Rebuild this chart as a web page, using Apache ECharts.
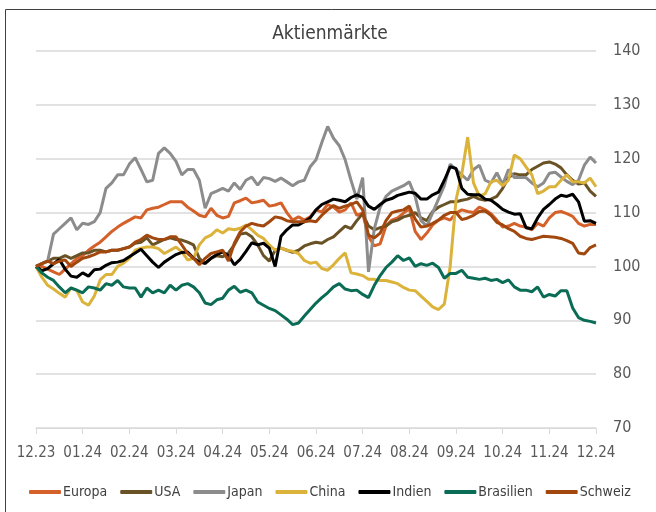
<!DOCTYPE html>
<html>
<head>
<meta charset="utf-8">
<script src="https://cdn.jsdelivr.net/npm/echarts@6/dist/echarts.min.js"></script>
<style>
  html, body { margin: 0; padding: 0; background: #fff; }
  #chart { width: 656px; height: 512px; }
</style>
</head>
<body>
<div id="chart"></div>
<script>
// month tick labels (one per 8 data steps)
const monthLabels = ['12.23', '01.24', '02.24', '03.24', '04.24', '05.24', '06.24', '07.24', '08.24', '09.24', '10.24', '11.24', '12.24']
const stepsPerMonth = 8

const europa = [100, 100, 99.5, 99, 98.5, 99.5, 100.5, 101.5, 102, 103, 103.8, 104.5, 105.5, 106.5, 107.3, 108, 108.6, 109.2, 109, 110.5, 110.8, 111, 111.5, 112, 112, 112, 111, 110.3, 109.5, 109.2, 110.8, 109.5, 109, 109.3, 111.8, 112.2, 112.7, 111.8, 112, 112.3, 111.2, 111.4, 111.8, 110, 108.6, 109.2, 108.6, 109.2, 110.5, 110.1, 111.5, 111, 110.1, 110.5, 111.8, 109.5, 109.9, 105.5, 103.8, 104.2, 107.5, 108.6, 109, 109.9, 110.7, 106.5, 105, 106.2, 107.7, 108.6, 109, 108.6, 109.9, 110.5, 110.2, 110, 111, 110.5, 109.8, 108.6, 107.3, 107.5, 108, 107.5, 107.3, 106.8, 108, 107.5, 109, 110, 110.2, 109.8, 109.3, 108, 107.5, 107.8, 107.8]
const usa = [100, 100.5, 101, 101.5, 101.5, 102, 101.5, 102, 102.5, 102.5, 103, 103, 102.7, 103, 103, 103.3, 103.6, 104.3, 104.5, 105.3, 104, 104.5, 105, 105.3, 105, 104.9, 104.5, 104, 101.5, 100.5, 101.5, 102, 101.8, 102.5, 104, 106, 106.2, 105.5, 104, 102, 101, 103, 103.4, 103, 102.6, 103, 103.8, 104.2, 104.5, 104.3, 105, 105.5, 106.5, 107.5, 107, 108.5, 109.8, 107.5, 106.8, 107.2, 107.5, 108.3, 108.6, 109.2, 109.5, 110, 109, 108.5, 110.2, 111, 111.5, 112, 112, 112.3, 112.5, 113, 112.5, 112.3, 112.5, 113, 114.5, 116.5, 117.2, 117, 117, 118, 118.6, 119.2, 119.4, 119, 118.3, 117, 116, 115.3, 115.5, 114, 113]
const japan = [100, 100.5, 101, 106, 107, 108, 109, 106.8, 108, 107.8, 108.3, 110, 114.5, 115.5, 117, 117, 119, 120.2, 118, 115.7, 116, 121, 122, 121, 119.5, 117, 118, 118, 116, 110.8, 113.5, 114, 114.5, 114, 115.5, 114.3, 116, 116.6, 115.1, 116.5, 116.3, 115.8, 116.4, 115.7, 115, 115.7, 116, 118.5, 119.8, 123, 126, 123.8, 122.4, 119.8, 116, 112.5, 116.5, 99, 107, 111, 113, 114, 114.5, 115, 115.7, 113, 108.5, 107.5, 110, 112.5, 115, 119, 118, 117, 116, 118, 118.8, 116, 115.5, 117.4, 115.2, 118, 116.5, 116.5, 116.5, 115.5, 114.8, 115.5, 117.3, 117.5, 116.6, 115.8, 115.2, 116, 118.8, 120.3, 119.2]
const china = [100, 98, 96.5, 95.8, 95, 94.3, 96, 95.5, 93.4, 92.8, 94.5, 97.5, 98.5, 98.5, 100, 100.6, 101.5, 103, 103.4, 103.6, 103.6, 103.3, 102.4, 103, 103.6, 102.7, 101.2, 101.5, 104, 105.3, 105.8, 106.8, 106.2, 107, 106.8, 107.1, 107.7, 106.8, 105.8, 105.2, 104, 103, 103.4, 103, 102.8, 102.4, 101.1, 100.6, 100.8, 99.6, 99.3, 100.3, 101.5, 102.5, 98.8, 98.6, 98.3, 97.6, 97.6, 97.4, 97.4, 97.1, 96.8, 96.1, 95.6, 95.5, 94.5, 93.5, 92.5, 92, 93, 100, 112.3, 117.2, 124, 115.5, 113, 113.5, 115.7, 116, 115, 116, 120.7, 120, 118.5, 117, 113.5, 114, 114.8, 114.8, 116, 117, 115.7, 115.7, 115.5, 116.4, 114.8]
const indien = [100, 99.2, 99.6, 100.5, 101.3, 99.5, 98.2, 98, 98.8, 98.2, 99.4, 99.5, 100.2, 100.7, 100.8, 101.1, 101.8, 102.5, 103.2, 102, 100.8, 99.8, 100.8, 101.5, 102.2, 102.6, 102.7, 101.5, 100.8, 100.6, 101.5, 102.2, 102.7, 102, 100.3, 101.3, 102.8, 104.4, 104, 104.3, 103.4, 100, 105.6, 106.8, 107.7, 107.7, 108.3, 109, 110.5, 111.5, 112, 112.5, 112.3, 112, 112.8, 113.3, 112.8, 111.2, 110.6, 111.5, 112.3, 112.6, 113.2, 113.5, 113.8, 113.6, 112.5, 112.5, 113.3, 113.8, 116, 118.5, 118.2, 114.5, 113.4, 113.3, 113.3, 112.5, 112.3, 111.5, 110.6, 110.1, 109.7, 109.8, 107.2, 107, 109, 110.6, 111.5, 112.5, 113.2, 113, 113.4, 112, 108.4, 108.5, 108]
const brasilien = [100, 98.8, 98, 97.4, 96.2, 95.1, 96, 95.6, 95.1, 96.2, 96, 95.6, 96.8, 96.5, 97.4, 96.2, 96, 96, 94.3, 96, 95.1, 95.6, 95.1, 96.5, 95.6, 96.5, 96.8, 96.2, 95.1, 93.2, 92.9, 93.8, 94.1, 95.6, 96.3, 95.2, 95.6, 95.1, 93.4, 92.8, 92.2, 91.8, 91, 90.2, 89.2, 89.5, 90.8, 92, 93.2, 94.2, 95.1, 96.2, 96.8, 95.8, 95.5, 95.6, 94.8, 94.2, 96.5, 98.3, 99.8, 100.8, 102, 101.1, 101.6, 100, 100.5, 100.2, 100.6, 99.8, 97.8, 98.7, 98.7, 99.3, 98, 97.8, 97.6, 97.8, 97.4, 97.6, 97, 97.5, 96.2, 95.6, 95.6, 95.3, 96.2, 94.3, 94.8, 94.5, 95.5, 95.5, 92.3, 90.5, 90, 89.8, 89.5]
const schweiz = [100, 100.5, 101, 100.5, 101, 101.2, 100, 100.8, 101.5, 101.8, 102.2, 102.7, 102.7, 103, 103, 103.3, 103.6, 104.5, 105, 105.8, 105.3, 105, 105, 105.5, 105.5, 104, 102.4, 101.5, 100.3, 101.5, 102.4, 102.7, 103, 101, 104.3, 106.4, 107.5, 108, 107.7, 107.5, 108.3, 109.2, 109, 108.5, 108.3, 108.3, 108.3, 108.5, 108.3, 109.5, 110.5, 111.3, 110.8, 111.2, 111.5, 112, 110.5, 105.8, 105.3, 106.2, 108.5, 110, 110.3, 110.5, 111.2, 108.8, 107.3, 107.5, 108, 108.6, 109.5, 110, 110, 108.7, 109, 109.5, 110.2, 110.3, 109.5, 108.2, 107.7, 107, 106.5, 105.6, 105.2, 105, 105.3, 105.6, 105.5, 105.4, 105.2, 104.8, 104.3, 102.5, 102.3, 103.5, 104]

const seriesNames = ['Europa', 'USA', 'Japan', 'China', 'Indien', 'Brasilien', 'Schweiz']
const seriesValues = [europa, usa, japan, china, indien, brasilien, schweiz]
const seriesColors = ['#D5612A', '#6A5227', '#8C8C8C', '#DCB33A', '#000000', '#0B6C56', '#A2480F']

const font = '"Liberation Sans Narrow", "DejaVu Sans Condensed", "Open Sans", sans-serif'

const chart = echarts.init(document.getElementById('chart'))
chart.setOption({
  animation: false,
  title: {
    text: 'Aktienmärkte',
    left: 325,
    top: 20,
    textAlign: 'center',
    textStyle: { color: '#404040', fontSize: 19, fontWeight: 'normal', fontFamily: font }
  },
  graphic: [
    {
      type: 'rect',
      shape: { x: 5.5, y: 9.5, width: 680, height: 520 },
      style: { fill: 'none', stroke: '#404040', lineWidth: 1 }
    }
  ],
  legend: {
    bottom: 8,
    left: 24,
    itemWidth: 32,
    itemHeight: 4,
    itemGap: 13,
    icon: 'roundRect',
    textStyle: { color: '#404040', fontSize: 14, fontFamily: font, padding: [0, 0, 0, -3] },
    data: seriesNames
  },
  grid: { left: 36, right: 60, top: 51, bottom: 84 },
  xAxis: {
    type: 'value',
    min: 0,
    max: monthLabels.length * stepsPerMonth - stepsPerMonth,
    interval: stepsPerMonth,
    axisLine: { onZero: false, lineStyle: { color: '#D9D9D9', width: 1 } },
    axisTick: { show: true, length: 6, lineStyle: { color: '#D9D9D9' } },
    splitLine: { show: false },
    axisLabel: {
      color: '#595959',
      fontSize: 15,
      fontFamily: font,
      margin: 18,
      formatter: (v) => monthLabels[Math.round(v / stepsPerMonth)]
    }
  },
  yAxis: {
    type: 'value',
    position: 'right',
    min: 70,
    max: 140,
    interval: 10,
    axisLine: { show: false },
    axisTick: { show: false },
    splitLine: { lineStyle: { color: '#D9D9D9', width: 1.5 } },
    axisLabel: { color: '#595959', fontSize: 16, fontFamily: font, margin: 17 }
  },
  series: seriesNames.map((name, k) => ({
    name,
    type: 'line',
    showSymbol: false,
    symbol: 'none',
    color: seriesColors[k],
    lineStyle: { width: 3, color: seriesColors[k] },
    data: seriesValues[k].map((v, i) => [i, v])
  }))
})
</script>
</body>
</html>
